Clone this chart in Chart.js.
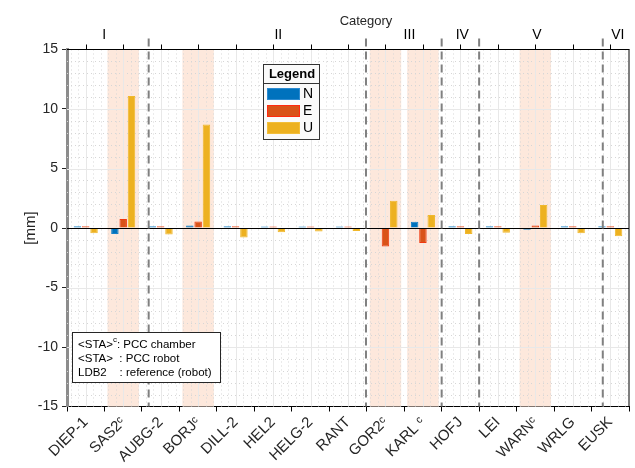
<!DOCTYPE html>
<html>
<head>
<meta charset="utf-8">
<script src="https://cdn.jsdelivr.net/npm/chart.js@4.4.1/dist/chart.umd.min.js"></script>
<style>
html,body{margin:0;padding:0;background:#fff;}
canvas{display:block;}
</style>
</head>
<body>
<canvas id="c" width="635" height="468"></canvas>
<script>
const stations = ['DIEP-1','SAS2ᶜ','AUBG-2','BORJᶜ','DILL-2','HEL2','HELG-2','RANT','GOR2ᶜ','KARL ᶜ','HOFJ','LEI','WARNᶜ','WRLG','EUSK'];
const seriesN = [0.15, -0.5, 0.15, 0.22, 0.15, 0.12, 0.12, 0.12, -0.08, 0.53, 0.15, 0.15, -0.15, 0.15, 0.15];
const seriesE = [0.15, 0.75, 0.15, 0.55, 0.15, 0.12, 0.12, 0.12, -1.55, -1.27, 0.15, 0.15, 0.22, 0.15, 0.15];
const seriesU = [-0.45, 11.1, -0.55, 8.7, -0.8, -0.35, -0.3, -0.25, 2.3, 1.1, -0.5, -0.4, 1.93, -0.45, -0.7];
const seriesNames = ['N','E','U'];
const yMin = -15, yMax = 15, yStep = 5;
const groupLabels = ['I','II','III','IV','V','VI'];
const groupLabelAt = [0.49, 5.14, 8.64, 10.05, 12.04, 14.2];
const separatorsAt = [1.68, 7.48, 9.5, 10.5, 13.8];
const shadedStations = [1, 3, 8, 9, 12];
const axisTitleTop = 'Category';
const axisTitleY = '[mm]';
const noteLines = [['<STA>', 'c', ': PCC chamber'], ['<STA>', '', '  : PCC robot'], ['LDB2', '', '    : reference (robot)']];

const FONT = '"Liberation Sans", Arial, "DejaVu Sans", sans-serif';
const colN = '#0072BD', colE = '#D95319', colU = '#EDB120';
const edgeN = '#1580C8', edgeE = '#F0380F', edgeU = '#F0B82C';

function xAt(chart, v) {
  const xs = chart.scales.x;
  const p0 = xs.getPixelForValue(0), p1 = xs.getPixelForValue(1);
  return p0 + (p1 - p0) * v;
}

const decor = {
  id: 'decor',
  beforeDatasetsDraw(chart) {
    const ctx = chart.ctx, a = chart.chartArea, ys = chart.scales.y;
    const w = xAt(chart, 1) - xAt(chart, 0);
    ctx.save();
    ctx.fillStyle = '#FDE8DC';
    shadedStations.forEach(i => {
      const c = xAt(chart, i);
      ctx.fillRect(c - 0.42 * w, a.top, 0.84 * w, a.bottom - a.top);
    });
    ctx.strokeStyle = '#D6D6D6';
    ctx.lineWidth = 1;
    ctx.setLineDash([1, 3]);
    for (let v = yMin + 1; v < yMax; v++) {
      if (v % yStep === 0) continue;
      const y = Math.round(ys.getPixelForValue(v)) + 0.5;
      ctx.beginPath(); ctx.moveTo(a.left, y); ctx.lineTo(a.right, y); ctx.stroke();
    }
    for (let k = -2; k <= stations.length * 5 + 2; k++) {
      if (k % 5 === 0) continue;
      const x = Math.round(xAt(chart, k / 5)) + 0.5;
      if (x <= a.left + 1 || x >= a.right - 1) continue;
      ctx.beginPath(); ctx.moveTo(x, a.top); ctx.lineTo(x, a.bottom); ctx.stroke();
    }
    ctx.setLineDash([]);
    ctx.strokeStyle = '#E8E8E8';
    for (let v = yMin + yStep; v < yMax; v += yStep) {
      const y = Math.round(ys.getPixelForValue(v)) + 0.5;
      ctx.beginPath(); ctx.moveTo(a.left, y); ctx.lineTo(a.right, y); ctx.stroke();
    }
    for (let i = 0; i < stations.length; i++) {
      const x = Math.round(xAt(chart, i)) + 0.5;
      ctx.beginPath(); ctx.moveTo(x, a.top); ctx.lineTo(x, a.bottom); ctx.stroke();
    }
    ctx.restore();
  },
  afterDatasetsDraw(chart) {
    const ctx = chart.ctx, a = chart.chartArea, ys = chart.scales.y;
    ctx.save();
    const y0 = Math.round(ys.getPixelForValue(0)) + 0.5;
    ctx.strokeStyle = '#000'; ctx.lineWidth = 1;
    ctx.beginPath(); ctx.moveTo(a.left, y0); ctx.lineTo(a.right, y0); ctx.stroke();
    ctx.strokeStyle = '#808080'; ctx.lineWidth = 2; ctx.setLineDash([8, 5]);
    separatorsAt.forEach(v => {
      const x = xAt(chart, v);
      ctx.beginPath(); ctx.moveTo(x, a.top - 11); ctx.lineTo(x, a.bottom); ctx.stroke();
    });
    ctx.setLineDash([]);
    ctx.strokeStyle = '#000'; ctx.lineWidth = 1;
    ctx.beginPath(); ctx.moveTo(a.left, a.top); ctx.lineTo(a.right + 0.5, a.top); ctx.stroke();
    ctx.beginPath(); ctx.moveTo(a.right, a.top); ctx.lineTo(a.right, a.bottom); ctx.stroke();
    for (let i = 0; i < stations.length; i++) {
      const x = Math.round(xAt(chart, i)) + 0.5;
      ctx.beginPath(); ctx.moveTo(x, a.top); ctx.lineTo(x, a.top - 5); ctx.stroke();
    }
    ctx.fillStyle = '#000';
    ctx.font = '14px ' + FONT;
    ctx.textAlign = 'center'; ctx.textBaseline = 'alphabetic';
    groupLabels.forEach((t, i) => ctx.fillText(t, xAt(chart, groupLabelAt[i]), a.top - 11));
    ctx.fillStyle = '#262626';
    ctx.font = '13px ' + FONT;
    ctx.fillText(axisTitleTop, (a.left + a.right) / 2 + 18, 25);
    ctx.save();
    ctx.translate(31, (a.top + a.bottom) / 2);
    ctx.rotate(-Math.PI / 2);
    ctx.font = '15px ' + FONT;
    ctx.textAlign = 'center'; ctx.textBaseline = 'middle';
    ctx.fillStyle = '#262626';
    ctx.fillText(axisTitleY, 0, 0);
    ctx.restore();
    const lx = 263, ly = 64, lw = 56, lh = 75;
    ctx.fillStyle = '#FAFAFA';
    ctx.fillRect(lx, ly, lw, lh);
    ctx.strokeStyle = '#333'; ctx.lineWidth = 1;
    ctx.strokeRect(lx + 0.5, ly + 0.5, lw, lh);
    ctx.beginPath(); ctx.moveTo(lx, ly + 19.5); ctx.lineTo(lx + lw, ly + 19.5); ctx.stroke();
    ctx.fillStyle = '#000';
    ctx.font = 'bold 13px ' + FONT;
    ctx.textAlign = 'center'; ctx.textBaseline = 'middle';
    ctx.fillText('Legend', lx + lw / 2 + 1, ly + 10);
    const cols = [colN, colE, colU], borders = ['#2C8AD0', '#FF2A10', '#F2BE3A'];
    ctx.font = '14px ' + FONT; ctx.textAlign = 'left';
    seriesNames.forEach((n, i) => {
      const py = ly + 24 + i * 17;
      ctx.fillStyle = cols[i];
      ctx.fillRect(lx + 4, py, 33, 12);
      ctx.strokeStyle = borders[i];
      ctx.strokeRect(lx + 4.5, py + 0.5, 32, 11);
      ctx.fillStyle = '#000';
      ctx.fillText(n, lx + 40, py + 6.5);
    });
    const nx = 72, ny = 332;
    let maxW = 0;
    noteLines.forEach(l => {
      ctx.font = '11.5px ' + FONT;
      let wdt = ctx.measureText(l[0]).width + ctx.measureText(l[2]).width;
      ctx.font = '8px ' + FONT;
      wdt += ctx.measureText(l[1]).width;
      maxW = Math.max(maxW, wdt);
    });
    const nw = Math.round(maxW + 14), nh = 50;
    ctx.fillStyle = '#fff';
    ctx.fillRect(nx, ny, nw, nh);
    ctx.strokeStyle = '#262626';
    ctx.strokeRect(nx + 0.5, ny + 0.5, nw, nh);
    ctx.fillStyle = '#000'; ctx.textAlign = 'left'; ctx.textBaseline = 'middle';
    noteLines.forEach((l, i) => {
      const ty = ny + 13 + i * 14;
      let x = nx + 6;
      ctx.font = '11.5px ' + FONT;
      ctx.fillText(l[0], x, ty); x += ctx.measureText(l[0]).width;
      if (l[1]) { ctx.font = '8px ' + FONT; ctx.fillText(l[1], x, ty - 5); x += ctx.measureText(l[1]).width; }
      ctx.font = '11.5px ' + FONT;
      ctx.fillText(l[2], x, ty);
    });
    ctx.restore();
  }
};

new Chart(document.getElementById('c'), {
  type: 'bar',
  data: {
    labels: stations,
    datasets: [
      { label: seriesNames[0], data: seriesN, backgroundColor: colN, borderColor: edgeN, borderWidth: 1 },
      { label: seriesNames[1], data: seriesE, backgroundColor: colE, borderColor: edgeE, borderWidth: 1 },
      { label: seriesNames[2], data: seriesU, backgroundColor: colU, borderColor: edgeU, borderWidth: 1 }
    ]
  },
  options: {
    responsive: false,
    animation: false,
    devicePixelRatio: 1,
    categoryPercentage: 0.665,
    barPercentage: 0.9,
    layout: { padding: { top: 49.5, right: 6, left: 0, bottom: 0 } },
    plugins: { legend: { display: false }, tooltip: { enabled: false } },
    scales: {
      x: {
        offset: true,
        grid: { display: true, drawOnChartArea: false, drawTicks: true, tickLength: 5, tickColor: '#000', color: '#000' },
        border: { display: true, color: '#000', width: 1 },
        ticks: { font: { size: 15, family: FONT }, color: '#262626', minRotation: 45, maxRotation: 45, autoSkip: false, padding: 2 },
        afterFit(s) { s.height = 61.5; }
      },
      y: {
        min: yMin, max: yMax,
        grid: { display: true, drawOnChartArea: false, drawTicks: true, tickLength: 5, tickColor: '#262626', color: '#262626' },
        border: { display: true, color: '#8C8C8C', width: 3 },
        ticks: { stepSize: yStep, font: { size: 14, family: FONT }, color: '#262626', padding: 4 },
        afterFit(s) { s.width = 67; }
      }
    }
  },
  plugins: [decor]
});
</script>
</body>
</html>
